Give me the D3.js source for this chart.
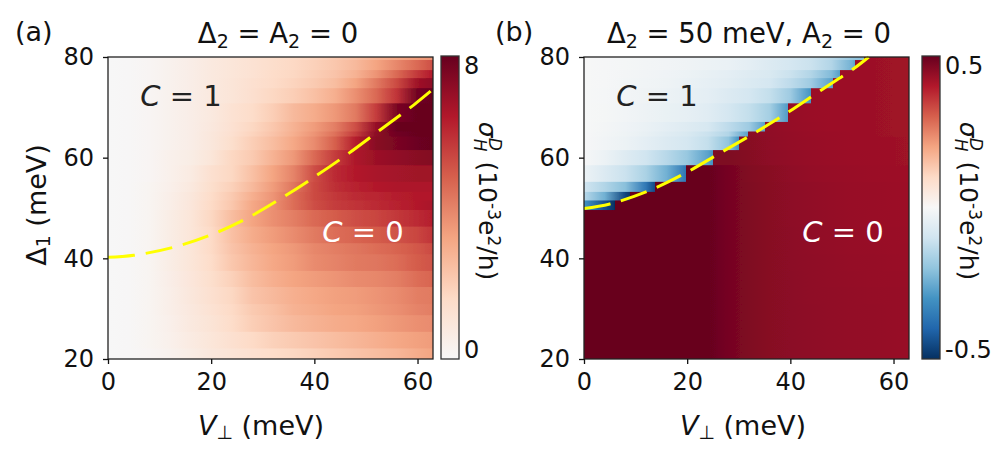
<!DOCTYPE html>
<html>
<head>
<meta charset="utf-8">
<script src="https://cdn.jsdelivr.net/npm/d3@7"></script>
<style>
    html, body { margin: 0; padding: 0; background: #fff; }
    text { font-family: 'DejaVu Sans', sans-serif; fill: #111; }
</style>
</head>
<body>
<div id="chart"></div>
<script>
//Grid of the heatmaps, V is sampled along x, the rows in delta are uneven
var voltages = [0, 4, 8, 12, 16, 20, 24, 28, 32, 36, 40, 44, 48, 52, 56, 60, 63];
var rowEdges = [80, 79.4, 77.4, 75.8, 73.8, 70.8, 67.1, 65.2, 64.2, 61.5, 58.5, 55.2, 53.2, 51.5, 49.6,
    46.3, 43, 40.8, 37.5, 34.3, 30.9, 28.7, 25.4, 22.1, 20];

var sigmaA = [
    [0, .05, .15, .35, .55, .8, 1, 1.2, 1.4, 1.6, 1.8, 2.1, 2.4, 2.8, 3.1, 3.4, 3.6],
    [0, .05, .15, .35, .55, .8, 1, 1.2, 1.45, 1.65, 1.9, 2.2, 2.6, 3.2, 3.9, 4.6, 5.2],
    [0, .05, .15, .35, .55, .8, 1, 1.2, 1.5, 1.7, 2, 2.3, 2.8, 3.6, 4.6, 5.7, 6.4],
    [0, .05, .15, .35, .55, .8, 1.05, 1.3, 1.55, 1.8, 2.1, 2.5, 3.2, 4.2, 5.3, 6.8, 7.2],
    [0, .05, .15, .35, .55, .8, 1.05, 1.35, 1.7, 2, 2.4, 2.9, 3.7, 4.6, 5.8, 7.8, 8],
    [0, .05, .15, .35, .55, .8, 1.2, 1.5, 2, 2.6, 3, 3.5, 4.2, 5.6, 7.6, 8, 8],
    [0, .05, .15, .35, .55, .85, 1.25, 1.7, 2.2, 2.8, 3.4, 4.1, 5.2, 7, 8, 8, 8],
    [0, .05, .15, .35, .55, .9, 1.3, 1.8, 2.3, 2.9, 3.6, 4.4, 5.6, 7.2, 7.8, 8, 8],
    [0, .05, .15, .35, .55, .9, 1.4, 2, 2.5, 3.1, 3.8, 4.8, 6.3, 7.3, 7.6, 7.9, 8],
    [0, .05, .15, .4, .6, 1, 1.7, 2.1, 2.8, 3.5, 4.6, 5.6, 6.5, 6.9, 7.1, 7.3, 7.4],
    [0, .05, .15, .4, .7, 1.3, 1.7, 2.4, 3.2, 4, 5.2, 6, 6.4, 6.6, 6.7, 6.8, 6.8],
    [0, .05, .2, .45, .8, 1.4, 1.9, 2.6, 3.4, 4.3, 5.3, 5.9, 6.2, 6.4, 6.5, 6.5, 6.5],
    [0, .05, .2, .5, .9, 1.5, 2.1, 2.9, 3.6, 4.5, 5.3, 5.7, 6, 6.1, 6.3, 6.4, 6.4],
    [0, .05, .2, .5, .95, 1.6, 2.2, 3.1, 3.7, 4.5, 5.2, 5.6, 5.8, 6, 6.2, 6.4, 6.6],
    [0, .05, .2, .6, 1, 1.7, 2.5, 3.2, 3.7, 4.1, 4.6, 4.9, 5.2, 5.4, 5.7, 6, 6.3],
    [0, .05, .2, .6, 1, 1.6, 2.4, 3, 3.4, 3.8, 4.2, 4.5, 4.7, 4.9, 5.1, 5.4, 5.8],
    [0, .05, .2, .6, 1, 1.6, 2.3, 2.8, 3.2, 3.5, 3.9, 4.1, 4.3, 4.5, 4.7, 5, 5.3],
    [0, .05, .2, .6, 1, 1.5, 2.2, 2.7, 3.1, 3.4, 3.8, 4, 4.2, 4.3, 4.5, 4.9, 5.1],
    [0, .05, .2, .55, .95, 1.4, 1.9, 2.5, 2.9, 3.2, 3.4, 3.6, 3.8, 3.9, 4.1, 4.5, 4.7],
    [0, .05, .2, .5, .9, 1.3, 1.7, 2.3, 2.6, 2.9, 3.1, 3.3, 3.4, 3.6, 3.8, 4.1, 4.2],
    [0, .05, .2, .5, .85, 1.2, 1.6, 2.1, 2.4, 2.8, 3, 3.2, 3.3, 3.5, 3.7, 4, 4.1],
    [0, .05, .2, .45, .8, 1.1, 1.5, 2, 2.3, 2.6, 2.8, 3, 3.1, 3.3, 3.5, 3.7, 3.8],
    [0, .05, .2, .4, .7, 1, 1.3, 1.6, 1.9, 2.1, 2.3, 2.5, 2.7, 2.9, 3.1, 3.3, 3.4],
    [0, .05, .15, .35, .6, .9, 1.1, 1.3, 1.5, 1.7, 1.9, 2.1, 2.3, 2.5, 2.7, 3, 3.2]
];

var sigmaB = [
    [-.001, -.004, -.007, -.011, -.015, -.02, -.025, -.03, -.045, -.06, -.085, -.11, -.14, -.19, .43, .425, .425],
    [-.001, -.004, -.008, -.012, -.016, -.022, -.028, -.035, -.05, -.07, -.09, -.11, -.15, -.24, .43, .425, .425],
    [-.002, -.005, -.01, -.015, -.02, -.03, -.04, -.05, -.065, -.08, -.11, -.15, -.22, .43, .43, .425, .425],
    [-.002, -.006, -.012, -.018, -.025, -.035, -.045, -.055, -.075, -.09, -.13, -.18, -.27, .43, .43, .425, .425],
    [-.002, -.007, -.014, -.022, -.03, -.04, -.05, -.07, -.09, -.12, -.18, .432, .43, .43, .43, .425, .425],
    [-.002, -.008, -.016, -.026, -.036, -.046, -.06, -.09, -.12, -.17, .437, .432, .43, .43, .43, .425, .425],
    [-.002, -.01, -.02, -.035, -.05, -.065, -.085, -.13, -.18, .445, .438, .433, .43, .43, .43, .425, .425],
    [-.003, -.012, -.025, -.04, -.06, -.08, -.11, -.15, .455, .445, .44, .435, .432, .43, .43, .427, .425],
    [-.003, -.015, -.03, -.05, -.07, -.09, -.12, -.2, .457, .447, .44, .436, .432, .43, .43, .428, .426],
    [-.005, -.03, -.065, -.1, -.14, -.19, -.27, .47, .46, .45, .443, .438, .434, .431, .43, .428, .427],
    [-.03, -.07, -.11, -.16, -.24, .5, .5, .48, .466, .456, .447, .44, .436, .433, .431, .43, .428],
    [-.1, -.15, -.21, -.36, .5, .5, .5, .48, .468, .458, .45, .444, .439, .435, .433, .431, .43],
    [-.14, -.24, -.46, .5, .5, .5, .5, .48, .468, .458, .45, .444, .439, .435, .433, .431, .43],
    [-.3, -.44, .5, .5, .5, .5, .5, .48, .468, .458, .45, .444, .439, .435, .433, .431, .43],
    [.5, .5, .5, .5, .5, .5, .5, .48, .468, .458, .45, .445, .44, .436, .434, .432, .431],
    [.5, .5, .5, .5, .5, .5, .5, .48, .468, .458, .451, .446, .441, .437, .435, .433, .432],
    [.5, .5, .5, .5, .5, .5, .5, .48, .468, .458, .451, .446, .442, .438, .436, .434, .433],
    [.5, .5, .5, .5, .5, .5, .5, .48, .468, .458, .451, .447, .443, .439, .437, .435, .434],
    [.5, .5, .5, .5, .5, .5, .5, .48, .468, .458, .452, .447, .443, .44, .438, .436, .435],
    [.5, .5, .5, .5, .5, .5, .5, .48, .468, .458, .452, .447, .444, .441, .439, .437, .436],
    [.5, .5, .5, .5, .5, .5, .5, .48, .468, .458, .452, .448, .444, .442, .44, .437, .436],
    [.5, .5, .5, .5, .5, .5, .5, .48, .468, .458, .452, .448, .444, .442, .44, .437, .436],
    [.5, .5, .5, .5, .5, .5, .5, .48, .468, .458, .452, .448, .444, .442, .44, .437, .435],
    [.5, .5, .5, .5, .5, .5, .5, .48, .468, .458, .452, .448, .444, .442, .44, .437, .435]
];

//Where the Chern phase boundary cuts each row of panel b, and the value just left of the jump
var stepV = [54.2, 52.6, 49.7, 48.3, 44, 39.5, 35, 31.8, 30, 25, 19.7, 13.7, 9, 6];
var stepValue = [-.21, -.27, -.28, -.28, -.3, -.28, -.27, -.27, -.3, -.3, -.36, -.45, -.5, -.5];

//Dashed yellow phase boundaries
var boundaryA = [[0, 40.2], [5, 40.6], [12.7, 42.2], [19.8, 44.6], [27, 48], [33.7, 52], [40.5, 56.5],
    [46.7, 60.9], [53, 65.7], [59.3, 70.5], [63, 73.6]];
var boundaryB = [[0, 49.9], [5, 50.8], [12.5, 53.4], [19.6, 56.9], [26, 60.7], [32.9, 64.8], [39.7, 69.1],
    [45.8, 73.3], [52.3, 77.7], [55.2, 80]];

var xTicks = [0, 20, 40, 60];
var yTicks = [20, 40, 60, 80];

//matplotlib RdBu_r control colors
var rdbu = ['#053061', '#2166ac', '#4393c3', '#92c5de', '#d1e5f0', '#f7f7f7', '#fddbc7', '#f4a582', '#d6604d', '#b2182b', '#67001f'];

var tickSize = 24;
var labelSize = 27;
var smallSize = 19;

var svg = d3.select('#chart')
    .append('svg')
    .attr('width', 996)
    .attr('height', 461)
    .style('display', 'block');
var defs = svg.append('defs');

//Slight vertical softening of the row bands, like the raster in the original
defs.append('filter')
    .attr('id', 'soften')
    .attr('x', 0).attr('y', 0).attr('width', 1).attr('height', 1)
    .append('feGaussianBlur')
    .attr('stdDeviation', '0 0.7');

function colorFor(limit){
    return d3.scaleLinear()
        .domain(rdbu.map(function(d, i){ return -limit + i * limit / 5; }))
        .range(rdbu)
        .clamp(true);
}

function drawPanel(opts){
    var x = d3.scaleLinear().domain([0, 63]).range([opts.left, opts.left + 325]);
    var y = d3.scaleLinear().domain([20, 80]).range([359, 57]);
    var color = colorFor(opts.limit);

    defs.append('clipPath')
        .attr('id', opts.name + 'clip')
        .append('rect')
        .attr('x', x(0))
        .attr('y', y(80))
        .attr('width', x(63) - x(0))
        .attr('height', y(20) - y(80));
    var cells = svg.append('g')
        .attr('clip-path', 'url(#' + opts.name + 'clip)')
        .append('g')
        .attr('filter', 'url(#soften)');

    //One band per row, the column samples become stops of a horizontal gradient
    opts.values.forEach(function(row, r){
        var id = opts.name + 'row' + r;
        var stops = [];
        var step = r < opts.steps.length ? opts.steps[r] : null;
        row.forEach(function(v, i){
            if(step !== null && i > 0 && voltages[i - 1] < step && voltages[i] >= step){
                stops.push({v: step, c: color(opts.stepValues[r])});
                stops.push({v: step, c: color(v)});
            }
            stops.push({v: voltages[i], c: color(v)});
        });
        defs.append('linearGradient')
            .attr('id', id)
            .attr('gradientUnits', 'userSpaceOnUse')
            .attr('x1', x(0))
            .attr('x2', x(63))
            .attr('y1', 0)
            .attr('y2', 0)
            .selectAll('stop')
            .data(stops)
            .enter()
            .append('stop')
            .attr('offset', function(d){ return d.v / 63; })
            .attr('stop-color', function(d){ return d.c; });
        //Rows run a little past the frame and into the next row so the blur has no seams
        var pad = r === 0 ? 4 : 0;
        var extra = r === opts.values.length - 1 ? 4 : 1;
        cells.append('rect')
            .attr('x', x(0))
            .attr('width', x(63) - x(0))
            .attr('y', y(rowEdges[r]) - pad)
            .attr('height', y(rowEdges[r + 1]) - y(rowEdges[r]) + pad + extra)
            .style('fill', 'url(#' + id + ')');
    });

    //Phase boundary
    var line = d3.line()
        .x(function(d){ return x(d[0]); })
        .y(function(d){ return y(d[1]); })
        .curve(d3.curveCatmullRom);
    svg.append('path')
        .attr('d', line(opts.boundary))
        .style('fill', 'none')
        .style('stroke', '#ffff00')
        .style('stroke-width', 3)
        .style('stroke-dasharray', '27,11');

    //Axes and frame
    svg.append('rect')
        .attr('x', x(0))
        .attr('y', y(80))
        .attr('width', x(63) - x(0))
        .attr('height', y(20) - y(80))
        .style('fill', 'none')
        .style('stroke', '#222')
        .style('stroke-width', 1.3);
    var xAxis = svg.append('g')
        .attr('transform', 'translate(0,359)')
        .call(d3.axisBottom(x).tickValues(xTicks).tickSize(5).tickSizeOuter(0).tickPadding(9));
    var yAxis = svg.append('g')
        .attr('transform', 'translate(' + x(0) + ',0)')
        .call(d3.axisLeft(y).tickValues(yTicks).tickSize(5).tickSizeOuter(0).tickPadding(9));
    [xAxis, yAxis].forEach(function(axis){
        axis.select('.domain').remove();
        axis.selectAll('line').style('stroke', '#111').style('stroke-width', 1.3);
        axis.selectAll('text').style('font-size', tickSize + 'px').style('font-family', "'DejaVu Sans', sans-serif");
    });

    //Panel letter and title
    svg.append('text')
        .attr('x', opts.letterX)
        .attr('y', 41)
        .style('font-size', labelSize + 'px')
        .text(opts.letter);
    var title = svg.append('text')
        .attr('x', opts.titleX)
        .attr('y', 43)
        .attr('text-anchor', 'middle')
        .style('font-size', '27.5px');
    opts.title.forEach(function(part){
        title.append('tspan')
            .attr('dy', part.sub ? 5 : (part.after ? -5 : 0))
            .style('font-size', part.sub ? smallSize + 'px' : null)
            .text(part.t);
    });

    //Quadrant labels
    [{t: '1', px: opts.c1, py: 106, fill: '#222'}, {t: '0', px: opts.c0, py: 242, fill: '#fff'}].forEach(function(d){
        var label = svg.append('text')
            .attr('x', d.px)
            .attr('y', d.py)
            .attr('text-anchor', 'middle')
            .style('font-size', '29px')
            .style('fill', d.fill);
        label.append('tspan').style('font-style', 'italic').style('fill', d.fill).text('C');
        label.append('tspan').style('fill', d.fill).text(' = ' + d.t);
    });

    //Axis labels
    var xLabel = svg.append('text')
        .attr('x', opts.xLabelX)
        .attr('y', 435)
        .attr('text-anchor', 'middle')
        .style('font-size', labelSize + 'px');
    xLabel.append('tspan').style('font-style', 'italic').text('V');
    xLabel.append('tspan').attr('dy', 4).style('font-size', smallSize + 'px').text('\u22a5');
    xLabel.append('tspan').attr('dy', -4).text(' (meV)');

    if(opts.yLabel){
        var yLabel = svg.append('text')
            .attr('transform', 'translate(46,205) rotate(-90)')
            .attr('text-anchor', 'middle')
            .style('font-size', labelSize + 'px');
        yLabel.append('tspan').text('\u0394');
        yLabel.append('tspan').attr('dy', 4).style('font-size', smallSize + 'px').text('1');
        yLabel.append('tspan').attr('dy', -4).text(' (meV)');
    }
}

function drawColorbar(opts){
    var y = d3.scaleLinear().domain(opts.domain).range([opts.bottom, 56]);
    var color = colorFor(opts.limit);
    var id = opts.name + 'bar';
    var barStops = d3.range(0, 11).map(function(i){ return i / 10; });

    defs.append('linearGradient')
        .attr('id', id)
        .attr('x1', 0).attr('x2', 0).attr('y1', 1).attr('y2', 0)
        .selectAll('stop')
        .data(barStops)
        .enter()
        .append('stop')
        .attr('offset', function(d){ return d; })
        .attr('stop-color', function(d){ return color(opts.domain[0] + d * (opts.domain[1] - opts.domain[0])); });
    svg.append('rect')
        .attr('x', opts.x)
        .attr('y', y(opts.domain[1]))
        .attr('width', 18)
        .attr('height', y(opts.domain[0]) - y(opts.domain[1]))
        .style('fill', 'url(#' + id + ')')
        .style('stroke', '#333')
        .style('stroke-width', 1.3);

    svg.append('text')
        .attr('x', opts.x + 23)
        .attr('y', y(opts.domain[1]) + 18)
        .style('font-size', tickSize + 'px')
        .text(opts.labels[1]);
    svg.append('text')
        .attr('x', opts.x + 23)
        .attr('y', y(opts.domain[0]) - 1)
        .style('font-size', tickSize + 'px')
        .text(opts.labels[0]);

    var label = svg.append('text')
        .attr('transform', 'translate(' + (opts.x + 37.5) + ',201) rotate(90)')
        .attr('text-anchor', 'middle')
        .style('font-size', '25px');
    label.append('tspan').style('font-style', 'italic').text('\u03c3');
    label.append('tspan').attr('dy', -10).style('font-size', '17px').style('font-style', 'italic').text('D');
    label.append('tspan').attr('dx', -12).attr('dy', 15).style('font-size', '17px').style('font-style', 'italic').text('H');
    label.append('tspan').attr('dy', -5).attr('dx', 2).text(' (10');
    label.append('tspan').attr('dy', -9).style('font-size', '17px').text('-3');
    label.append('tspan').attr('dy', 9).text('e');
    label.append('tspan').attr('dy', -9).style('font-size', '17px').text('2');
    label.append('tspan').attr('dy', 9).text('/h)');
}

drawPanel({
    name: 'a', letter: '(a)', left: 108, limit: 8, values: sigmaA, steps: [], stepValues: [], boundary: boundaryA,
    letterX: 15, titleX: 278, xLabelX: 261, c1: 181, c0: 363, yLabel: true,
    title: [{t: '\u0394'}, {t: '2', sub: true}, {t: ' = A', after: true}, {t: '2', sub: true}, {t: ' = 0', after: true}]
});
drawPanel({
    name: 'b', letter: '(b)', left: 584, limit: .5, values: sigmaB, steps: stepV, stepValues: stepValue, boundary: boundaryB,
    letterX: 495, titleX: 749, xLabelX: 743, c1: 657, c0: 843, yLabel: false,
    title: [{t: '\u0394'}, {t: '2', sub: true}, {t: ' = 50 meV, A', after: true}, {t: '2', sub: true}, {t: ' = 0', after: true}]
});

drawColorbar({name: 'a', x: 441, bottom: 359, limit: 8, domain: [0, 8], labels: ['0', '8']});
drawColorbar({name: 'b', x: 922, bottom: 359, limit: .5, domain: [-.5, .5], labels: ['-0.5', '0.5']});
</script>
</body>
</html>
